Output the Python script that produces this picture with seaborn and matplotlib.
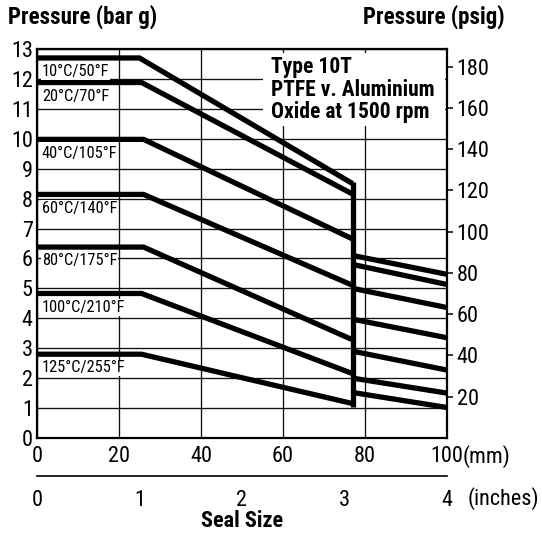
import matplotlib
matplotlib.use("Agg")
import matplotlib.pyplot as plt
from matplotlib.patches import Rectangle
import numpy as np
import pandas as pd
import seaborn as sns

# ---------------- data ----------------
labels = ["10°C/50°F", "20°C/70°F", "40°C/105°F", "60°C/140°F",
          "80°C/175°F", "100°C/210°F", "125°C/255°F"]
flat_bar = [12.70, 11.88, 9.98, 8.14, 6.38, 4.83, 2.80]      # plateau pressure (bar)
knee_mm = [25.0, 25.5, 26.0, 26.0, 26.0, 25.5, 25.5]          # end of plateau (mm)
step_mm = 77.0                                                # size where curves drop
end_left_bar = [8.50, 8.15, 6.65, 5.10, 3.28, 2.15, 1.15]     # value reached at step
right_start_bar = [6.10, 5.80, 5.00, 3.97, 2.90, 2.00, 1.52]  # after the step
right_end_bar = [5.47, 5.13, 4.36, 3.35, 2.27, 1.50, 1.02]    # at 100 mm
step_top_bar = 8.55
step_bottom_bar = 1.02
max_mm = 100.0

mm_ticks = [0, 20, 40, 60, 80, 100]
bar_ticks = list(range(0, 14))
psig_ticks = [20, 40, 60, 80, 100, 120, 140, 160, 180]
inch_ticks = [0, 1, 2, 3, 4]
mm_per_inch_axis = 25.0
psi_per_bar = 14.5038

# ---------------- long table ----------------
rows = []
for i, lab in enumerate(labels):
    for x, y in [(0.0, flat_bar[i]), (knee_mm[i], flat_bar[i]), (step_mm, end_left_bar[i])]:
        rows.append(dict(seg=f"L{i}", mm=x, bar=y))
    for x, y in [(step_mm, right_start_bar[i]), (max_mm, right_end_bar[i])]:
        rows.append(dict(seg=f"R{i}", mm=x, bar=y))
rows.append(dict(seg="V", mm=step_mm, bar=step_top_bar))
rows.append(dict(seg="V", mm=step_mm, bar=step_bottom_bar))
df = pd.DataFrame(rows)

# ---------------- style ----------------
sns.set_style("white")
plt.rcParams["font.family"] = ["Roboto Condensed", "Liberation Sans", "DejaVu Sans"]
for k in ["text.color", "axes.labelcolor", "xtick.color", "ytick.color", "axes.edgecolor"]:
    plt.rcParams[k] = "black"

W, H = 542, 535
fig = plt.figure(figsize=(W / 100, H / 100), dpi=100)
L, R, T, B = 37, 447, 49, 438
ax = fig.add_axes([L / W, 1 - B / H, (R - L) / W, (B - T) / H])

TICK_FS = 16
ax.set_xlim(0, max_mm)
ax.set_ylim(0, 13)
ax.set_xticks(mm_ticks)
ax.set_yticks(bar_ticks)
ax.set_axisbelow(True)
ax.grid(True, color="#111111", linewidth=0.95)
for s in ax.spines.values():
    s.set_linewidth(1.6)
    s.set_color("black")
ax.tick_params(axis="both", length=0, labelsize=TICK_FS, colors="black")
ax.tick_params(axis="y", pad=3)
ax.tick_params(axis="x", pad=6)

# white panel behind the note
ax.add_patch(Rectangle((55.1, 10.42), 99.5 - 55.1, 12.86 - 10.42,
                       facecolor="white", edgecolor="none", zorder=1))

sns.lineplot(data=df, x="mm", y="bar", units="seg", estimator=None, sort=False,
             color="black", linewidth=3.8, ax=ax, legend=False, zorder=3)
for ln in ax.lines:
    ln.set_solid_joinstyle("miter")
    ln.set_solid_capstyle("butt")
ax.set_xlabel("")
ax.set_ylabel("")

# curve labels
for i, lab in enumerate(labels):
    ax.annotate(lab, xy=(0, flat_bar[i]), xytext=(3.5, -4.5), textcoords="offset points",
                ha="left", va="top", fontsize=11.8, color="black", zorder=4,
                bbox=dict(boxstyle="square,pad=0.05", fc="white", ec="none"))

# note
fig.text(271 / W, 1 - 89.5 / H, "Type 10T\nPTFE v. Aluminium\nOxide at 1500 rpm",
         ha="left", va="center", fontsize=15.5, fontweight="bold", linespacing=1.02)

# right axis psig
ax2 = ax.twinx()
ax2.set_ylim(0, 13 * psi_per_bar)
ax2.set_yticks(psig_ticks)
ax2.tick_params(axis="y", length=4, width=1.1, pad=3, labelsize=TICK_FS, colors="black")
ax2.grid(False)
for s in ax2.spines.values():
    s.set_visible(False)

# mm unit
fig.text(463 / W, 1 - 457 / H, "(mm)", ha="left", va="center", fontsize=TICK_FS)

# inch axis
yi = 476
ax3 = fig.add_axes([L / W, 1 - yi / H, (R - L) / W, 0.0001])
ax3.set_facecolor("none")
for k in ["left", "right", "top"]:
    ax3.spines[k].set_visible(False)
ax3.spines["bottom"].set_linewidth(1.2)
ax3.set_xlim(0, max_mm)
ax3.set_yticks([])
ax3.xaxis.remove_overlapping_locs = False
ax3.set_xticks([t * mm_per_inch_axis for t in inch_ticks])
ax3.set_xticklabels([str(t) for t in inch_ticks])
ax3.set_xticks(mm_ticks, minor=True)
ax3.tick_params(axis="x", which="major", direction="out", length=5, width=1.1,
                pad=5, labelsize=TICK_FS, colors="black")
ax3.tick_params(axis="x", which="minor", direction="in", length=5, width=1.1)
fig.text(468 / W, 1 - 499 / H, "(inches)", ha="left", va="center", fontsize=TICK_FS)

# titles
fig.text(8 / W, 1 - 17 / H, "Pressure (bar g)", ha="left", va="center",
         fontsize=16.5, fontweight="bold")
fig.text(505 / W, 1 - 17 / H, "Pressure (psig)", ha="right", va="center",
         fontsize=16.5, fontweight="bold")
fig.text(242 / W, 1 - 521 / H, "Seal Size", ha="center", va="center",
         fontsize=16, fontweight="bold")

fig.savefig("out.png", dpi=100)
